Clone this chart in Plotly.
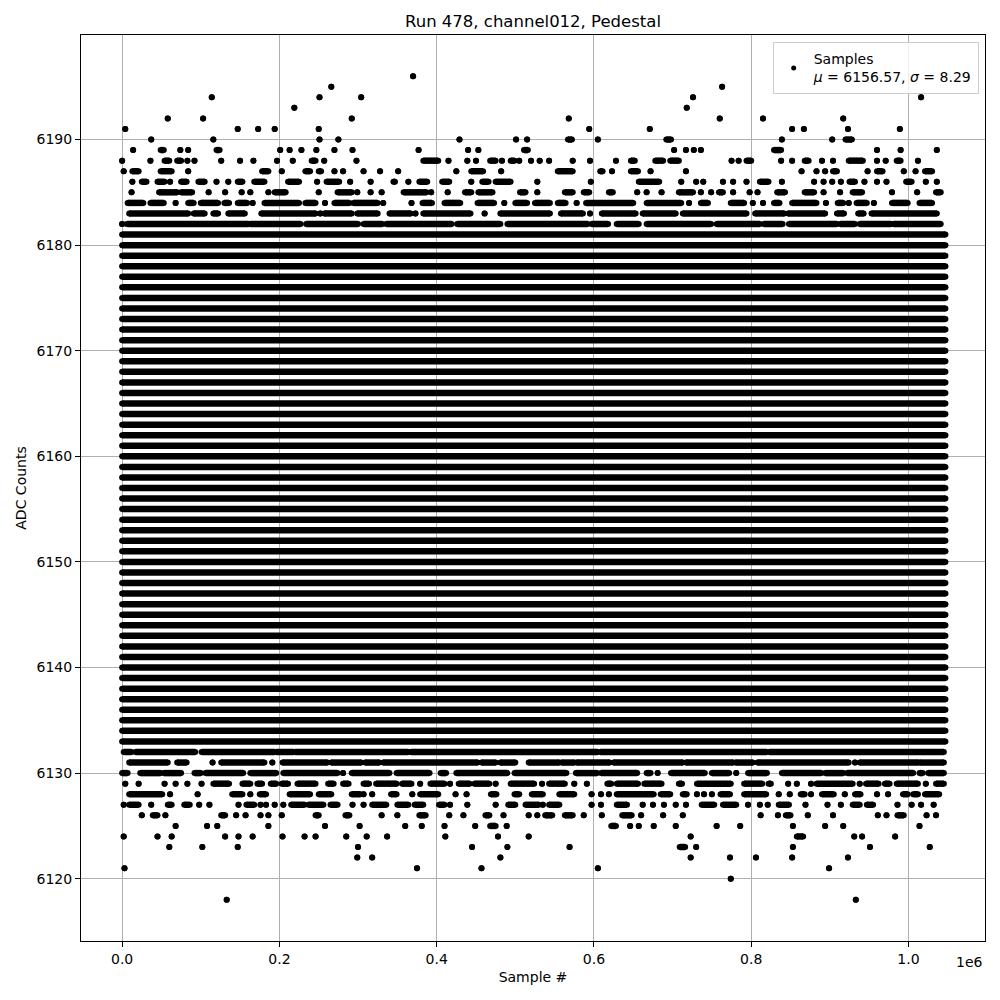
"""Pedestal scatter for one ADC channel: samples vs. sample index."""

import plotly.graph_objects as go

TITLE = "Run 478, channel012, Pedestal"
MEAN_ADC = 6156.57
SIGMA_ADC = 8.29
SAMPLE_END = 1.047  # last sample index, in units of 1e6

# ADC levels where samples cover the whole run (read as solid bands)
FULL_LEVELS = [
    6133, 6134, 6135, 6136, 6137, 6138, 6139, 6140, 6141, 6142, 6143, 6144,
    6145, 6146, 6147, 6148, 6149, 6150, 6151, 6152, 6153, 6154, 6155, 6156,
    6157, 6158, 6159, 6160, 6161, 6162, 6163, 6164, 6165, 6166, 6167, 6168,
    6169, 6170, 6171, 6172, 6173, 6174, 6175, 6176, 6177, 6178, 6179, 6180,
    6181,
]

# Sparse levels: sample positions (1e6 units); a tuple is a run of adjacent samples
L6196 = [0.370]
L6195 = [0.266, 0.763]
L6194 = [0.114, 0.251, 0.304, 0.726, 1.016]
L6193 = [0.219, 0.718]
L6192 = [0.058, 0.103, 0.292, 0.568, 0.760, 0.815, 0.917]
L6191 = [0.004, 0.147, 0.173, 0.194, 0.250, 0.594, 0.671, 0.852, 0.867, 0.923, 0.989]
L6190 = [0.037, 0.116, 0.251, 0.275, 0.429, 0.501, 0.515, (0.567, 0.572), 0.605,
         (0.692, 0.698), 0.839, 0.903, (0.920, 0.928)]
L6189 = [0.014, (0.049, 0.053), 0.074, 0.084, (0.120, 0.124), 0.201, 0.213, 0.228,
         0.247, 0.270, 0.293, 0.377, 0.440, 0.453, (0.511, 0.516), 0.702, 0.717,
         0.727, 0.736, (0.829, 0.838), 0.960, 0.990, 1.036]
L6188 = [0.000, 0.036, (0.054, 0.060), (0.070, 0.075), 0.083, 0.092, 0.126, 0.150,
         0.167, 0.197, 0.217, (0.241, 0.246), 0.257, 0.298, (0.383, 0.402), 0.415,
         0.439, 0.450, (0.468, 0.475), 0.483, (0.494, 0.499), 0.505, 0.520, 0.531,
         0.543, 0.573, 0.595, 0.628, (0.647, 0.652), (0.678, 0.688), (0.697, 0.708),
         0.775, 0.784, (0.794, 0.800), 0.838, 0.852, (0.868, 0.873), 0.890, 0.904,
         (0.924, 0.942), 0.960, 0.971, (0.985, 0.990), 1.012]
L6187 = [0.002, (0.013, 0.021), (0.049, 0.063), 0.084, (0.178, 0.186), 0.203,
         (0.233, 0.239), (0.250, 0.253), 0.270, 0.281, 0.307, 0.328, 0.351, 0.425,
         (0.444, 0.459), 0.482, (0.554, 0.573), (0.608, 0.611), 0.623, (0.647, 0.656),
         0.672, 0.717, 0.864, 0.883, 0.894, (0.904, 0.909), 0.948, (0.960, 0.967),
         0.994, 1.009, (1.021, 1.030)]
L6186 = [0.013, (0.025, 0.031), (0.045, 0.054), 0.061, (0.075, 0.082), (0.097, 0.105),
         0.120, 0.135, (0.147, 0.153), (0.168, 0.181), (0.211, 0.225), 0.248,
         (0.260, 0.276), 0.290, 0.316, (0.345, 0.347), 0.364, (0.378, 0.388),
         (0.407, 0.416), 0.444, (0.458, 0.466), (0.475, 0.494), 0.528, 0.596,
         (0.657, 0.683), 0.711, 0.730, 0.739, 0.764, 0.777, 0.794, (0.811, 0.822),
         0.839, 0.880, 0.892, 0.903, 0.914, (0.925, 0.932), 0.944, 0.960, 0.972,
         (0.997, 1.004), 1.022, 1.036]
L6185 = [0.012, (0.047, 0.070), (0.075, 0.089), 0.110, 0.131, 0.152, 0.163, 0.186,
         (0.194, 0.208), 0.250, (0.274, 0.292), 0.299, 0.316, 0.330, (0.358, 0.387),
         0.393, 0.414, (0.436, 0.444), (0.453, 0.471), (0.506, 0.513), 0.528,
         (0.563, 0.573), (0.587, 0.594), (0.619, 0.624), 0.655, 0.667, 0.686,
         (0.708, 0.726), 0.736, 0.749, (0.759, 0.764), 0.777, 0.798, 0.808,
         (0.833, 0.843), (0.868, 0.880), 0.892, 0.913, (0.929, 0.941), 0.979, 1.011,
         (1.035, 1.041)]
L6184 = [(0.007, 0.027), (0.036, 0.053), 0.068, (0.084, 0.091), (0.100, 0.122),
         (0.130, 0.136), (0.147, 0.159), 0.166, (0.181, 0.225), (0.233, 0.246), 0.258,
         (0.270, 0.289), (0.294, 0.325), 0.332, 0.368, (0.382, 0.394), (0.410, 0.430),
         (0.452, 0.473), 0.486, (0.500, 0.515), (0.525, 0.544), (0.554, 0.564), 0.578,
         (0.590, 0.650), (0.667, 0.711), 0.721, (0.736, 0.745), (0.774, 0.791), 0.802,
         0.815, (0.829, 0.836), (0.852, 0.883), 0.895, (0.910, 0.917), 0.924,
         (0.934, 0.947), 0.956, (0.979, 0.999), (1.014, 1.030)]
L6183 = [(0.009, 0.084), (0.091, 0.105), (0.116, 0.122), (0.135, 0.156), (0.177, 0.246),
         0.252, (0.257, 0.292), (0.299, 0.325), (0.340, 0.367), 0.373, (0.383, 0.443),
         0.461, (0.481, 0.544), (0.558, 0.586), 0.595, (0.610, 0.653), (0.662, 0.704),
         (0.713, 0.794), (0.805, 0.842), (0.847, 0.894), (0.909, 0.918), (0.936, 0.943),
         (0.953, 1.036)]
L6182 = [0.000, (0.006, 0.161), (0.163, 0.227), (0.234, 0.300), (0.307, 0.331),
         (0.336, 0.419), (0.426, 0.481), (0.490, 0.592), (0.597, 0.618), (0.629, 0.657),
         (0.667, 0.749), (0.756, 0.811), (0.816, 0.840), (0.848, 0.909), (0.913, 0.932),
         (0.938, 0.978), (0.981, 1.041)]

L6132 = [(0.002, 0.012), (0.017, 0.093), (0.101, 0.194), (0.196, 0.218), (0.220, 0.364),
         (0.367, 0.605), (0.608, 0.820), (0.823, 1.045)]
L6131 = [(0.009, 0.058), (0.070, 0.082), 0.115, (0.126, 0.181), 0.191, (0.204, 0.261),
         (0.266, 0.304), (0.309, 0.327), (0.332, 0.452), (0.457, 0.475), (0.481, 0.500),
         (0.517, 0.556), (0.559, 0.575), (0.578, 0.620), (0.625, 0.713), (0.717, 0.777),
         (0.780, 0.802), (0.808, 0.924), 0.932, (0.938, 1.012), (1.014, 1.045)]
L6130 = [(0.000, 0.007), (0.023, 0.049), (0.053, 0.075), (0.092, 0.100), (0.106, 0.154),
         (0.163, 0.196), (0.205, 0.274), 0.281, (0.292, 0.340), (0.349, 0.391),
         (0.405, 0.412), (0.425, 0.490), (0.499, 0.565), (0.577, 0.604), (0.609, 0.655),
         (0.667, 0.672), 0.681, (0.698, 0.741), (0.750, 0.772), 0.781, (0.796, 0.820),
         (0.839, 0.889), (0.894, 0.917), (0.922, 1.006), (1.014, 1.018), (1.025, 1.045)]
L6129 = [0.004, 0.021, 0.054, 0.068, 0.083, 0.101, (0.116, 0.136), (0.153, 0.163),
         (0.172, 0.178), (0.189, 0.196), (0.203, 0.211), (0.223, 0.246), (0.262, 0.269),
         (0.281, 0.288), (0.307, 0.314), (0.323, 0.349), (0.356, 0.368), 0.379,
         (0.392, 0.410), 0.417, (0.428, 0.442), (0.448, 0.467), 0.475, (0.494, 0.524),
         0.534, (0.543, 0.563), 0.575, 0.591, (0.617, 0.622), (0.629, 0.656),
         (0.664, 0.686), (0.708, 0.712), (0.731, 0.774), (0.791, 0.814), (0.822, 0.825),
         0.847, 0.858, 0.876, (0.883, 0.929), 0.938, (0.946, 0.962), (0.970, 0.976),
         (0.985, 1.012), 1.022, (1.035, 1.045)]
L6128 = [(0.009, 0.051), 0.061, 0.096, (0.140, 0.153), 0.163, (0.175, 0.183),
         (0.213, 0.239), (0.250, 0.266), (0.292, 0.303), 0.307, 0.318, (0.342, 0.349),
         0.369, (0.379, 0.402), 0.424, 0.438, (0.469, 0.476), (0.499, 0.505),
         (0.521, 0.535), (0.556, 0.575), 0.597, 0.609, 0.619, (0.629, 0.676),
         (0.685, 0.697), (0.713, 0.718), 0.731, 0.740, 0.750, (0.761, 0.773),
         (0.791, 0.819), 0.835, 0.849, (0.863, 0.868), 0.876, (0.890, 0.905), 0.919,
         (0.932, 0.939), 0.960, 0.974, (0.993, 0.999), (1.006, 1.012), (1.021, 1.039)]
L6127 = [0.002, (0.009, 0.021), 0.037, (0.058, 0.063), (0.079, 0.086), 0.098, 0.111,
         0.148, (0.158, 0.168), 0.176, 0.183, 0.194, 0.205, (0.215, 0.232),
         (0.237, 0.256), (0.265, 0.274), 0.293, 0.307, (0.318, 0.336), (0.350, 0.364),
         (0.372, 0.383), (0.403, 0.410), 0.417, 0.439, 0.475, (0.491, 0.500),
         (0.513, 0.530), 0.535, (0.543, 0.556), 0.597, 0.609, (0.629, 0.642), 0.662,
         0.675, 0.689, 0.704, 0.717, (0.737, 0.753), (0.764, 0.781), 0.796, 0.811,
         0.821, (0.835, 0.848), 0.869, 0.897, 0.914, (0.929, 0.938), (0.947, 0.955),
         0.986, 1.004, 1.016, 1.032]
L6126 = [0.025, (0.039, 0.045), 0.055, (0.126, 0.131), 0.145, 0.157, 0.176, 0.186,
         0.203, (0.246, 0.250), (0.284, 0.289), 0.330, 0.350, (0.378, 0.386), 0.416,
         0.434, (0.462, 0.467), 0.485, 0.517, 0.528, (0.538, 0.547), (0.563, 0.573),
         0.587, 0.610, (0.636, 0.648), 0.660, 0.688, 0.713, 0.812, 0.834,
         (0.844, 0.850), 0.872, 0.904, 0.961, 0.972, (0.986, 0.994), 1.023, 1.035]
L6125 = [0.068, 0.108, 0.121, 0.186, 0.258, 0.302, 0.360, 0.381, 0.410, 0.449,
         (0.468, 0.475), 0.489, (0.622, 0.628), 0.646, 0.657, 0.676, 0.704, 0.756,
         0.786, 0.853, 0.894, 0.917, 1.014]
L6124 = [0.002, 0.045, 0.063, 0.131, 0.148, 0.166, 0.204, 0.232, 0.246, 0.285, 0.311,
         0.337, 0.411, 0.478, 0.517, 0.723, (0.858, 0.866), 0.931, 0.941, 0.983]
L6123 = [0.060, 0.102, 0.147, 0.300, 0.445, 0.490, 0.569, (0.709, 0.716), 0.730,
         0.853, 0.951, 1.027]
L6122 = [0.299, 0.318, 0.481, 0.723, 0.773, 0.806, 0.852, 0.923]
L6121 = [0.003, 0.375, 0.457, 0.605, 0.899]
L6120 = [0.774]
L6118 = [0.133, 0.933]

X_TICKS = [0.0, 0.2, 0.4, 0.6, 0.8, 1.0]
Y_TICKS = [6120, 6130, 6140, 6150, 6160, 6170, 6180, 6190]

sparse_levels = {
    6196: L6196, 6195: L6195, 6194: L6194, 6193: L6193, 6192: L6192, 6191: L6191,
    6190: L6190, 6189: L6189, 6188: L6188, 6187: L6187, 6186: L6186, 6185: L6185,
    6184: L6184, 6183: L6183, 6182: L6182, 6132: L6132, 6131: L6131, 6130: L6130,
    6129: L6129, 6128: L6128, 6127: L6127, 6126: L6126, 6125: L6125, 6124: L6124,
    6123: L6123, 6122: L6122, 6121: L6121, 6120: L6120, 6118: L6118,
}
for lvl in FULL_LEVELS:
    sparse_levels[lvl] = [(0.0, SAMPLE_END)]

xs, ys = [], []
for lvl, runs in sparse_levels.items():
    for r in runs:
        a, b = (r, r) if isinstance(r, float) else r
        xs += [a * 1e6, b * 1e6, None]
        ys += [lvl, lvl, None]

FS = 14
fig = go.Figure()
fig.add_trace(go.Scatter(
    x=xs, y=ys, mode="lines+markers", showlegend=False, hoverinfo="skip",
    line={"color": "black", "width": 6.5},
    marker={"color": "black", "size": 6},
))
fig.add_trace(go.Scatter(
    x=[None], y=[None], mode="markers",
    name=f"Samples<br><i>μ</i> = {MEAN_ADC:.2f}, <i>σ</i> = {SIGMA_ADC:.2f}",
    marker={"color": "black", "size": 5},
))

axis_common = dict(
    showline=True, linecolor="black", linewidth=1, mirror=True,
    ticks="outside", ticklen=5, tickcolor="black", tickwidth=1,
    showgrid=True, gridcolor="#b0b0b0", gridwidth=0.8, zeroline=False,
    tickfont={"size": FS, "color": "black"}, automargin=False,
)
fig.update_xaxes(
    range=[-0.0523e6, 1.0973e6],
    tickvals=[t * 1e6 for t in X_TICKS], ticktext=[f"{t:.1f}" for t in X_TICKS],
    title={"text": "Sample #", "font": {"size": FS, "color": "black"}, "standoff": 6},
    **axis_common,
)
fig.update_yaxes(
    range=[6114.1, 6199.9], tickvals=Y_TICKS,
    title={"text": "ADC Counts", "font": {"size": FS, "color": "black"}, "standoff": 6},
    **axis_common,
)
fig.add_annotation(
    text="1e6", x=1.0, y=-0.023, xref="paper", yref="paper",
    xanchor="right", yanchor="middle", showarrow=False,
    font={"size": FS, "color": "black"},
)
# page body adds an 8px offset, margins are shifted to compensate
fig.update_layout(
    width=1000, height=1000,
    margin={"l": 73, "r": 23, "t": 27, "b": 67},
    paper_bgcolor="white", plot_bgcolor="white",
    font={"family": "DejaVu Sans, sans-serif", "color": "black"},
    title={"text": TITLE, "x": 0.525, "xanchor": "center", "y": 0.987,
           "yanchor": "middle", "font": {"size": 16.5}},
    legend={"x": 0.993, "y": 0.992, "xanchor": "right", "yanchor": "top",
            "bgcolor": "rgba(255,255,255,0.8)", "bordercolor": "#cccccc",
            "borderwidth": 1, "font": {"size": FS}},
)
fig.write_html("out.html")
